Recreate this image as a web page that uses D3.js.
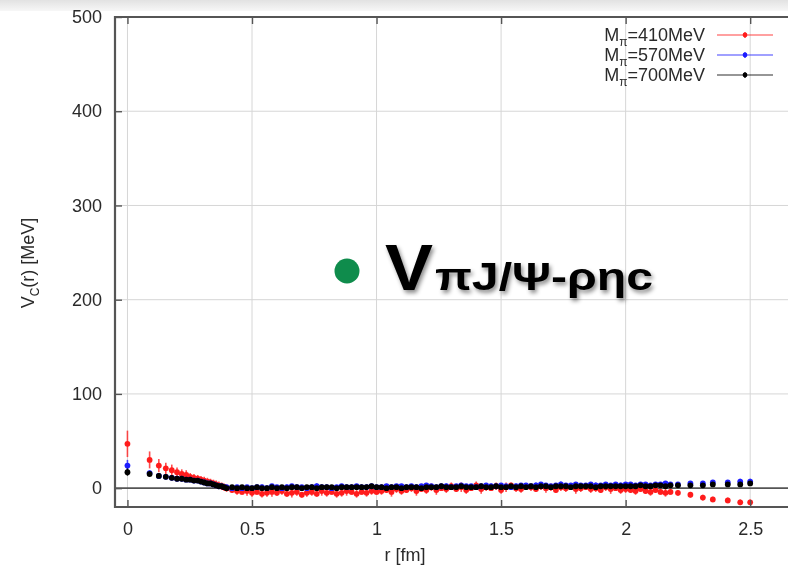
<!DOCTYPE html>
<html lang="en">
<head>
<meta charset="utf-8">
<title>V_C(r) potential</title>
<script src="https://cdn.jsdelivr.net/npm/d3@7/dist/d3.min.js"></script>
<style>
  body { margin: 0; background: #fff; }
  text { font-family: "Liberation Sans", Arial, Helvetica, sans-serif; }
</style>
</head>
<body>
<script>
// chart data
var x_ticks = [0, 0.5, 1, 1.5, 2, 2.5];
var x_tick_labels = ["0", "0.5", "1", "1.5", "2", "2.5"];
var y_ticks = [0, 100, 200, 300, 400, 500];
var series_names = ["410MeV", "570MeV", "700MeV"];

// distance r [fm], shared by the three masses
var r_fm = [
  0, 0.089, 0.126, 0.154, 0.178, 0.199, 0.218, 0.236, 0.252, 0.267, 0.282,
  0.295, 0.308, 0.321, 0.333, 0.345, 0.356, 0.367, 0.378, 0.388, 0.398,
  0.42, 0.44, 0.46, 0.48, 0.50, 0.52, 0.54, 0.56, 0.58, 0.60,
  0.62, 0.64, 0.66, 0.68, 0.70, 0.72, 0.74, 0.76, 0.78, 0.80,
  0.82, 0.84, 0.86, 0.88, 0.90, 0.92, 0.94, 0.96, 0.98, 1.00,
  1.02, 1.04, 1.06, 1.08, 1.10, 1.12, 1.14, 1.16, 1.18, 1.20,
  1.22, 1.24, 1.26, 1.28, 1.30, 1.32, 1.34, 1.36, 1.38, 1.40,
  1.42, 1.44, 1.46, 1.48, 1.50, 1.52, 1.54, 1.56, 1.58, 1.60,
  1.62, 1.64, 1.66, 1.68, 1.70, 1.72, 1.74, 1.76, 1.78, 1.80,
  1.82, 1.84, 1.86, 1.88, 1.90, 1.92, 1.94, 1.96, 1.98, 2.00,
  2.02, 2.04, 2.06, 2.08, 2.10, 2.12, 2.14, 2.16, 2.18,
  2.21, 2.26, 2.31, 2.35, 2.41, 2.46, 2.50
];

// M_pi = 410 MeV
var v_410 = [
  47, 30, 24, 21, 19, 17, 15, 14, 12, 11, 10, 9, 8, 7, 6, 5, 4, 3, 2, 1, 0,
  -2, -3, -4, -3, -5, -4, -6, -5, -4, -5,
  -3, -6, -5, -4, -7, -5, -4, -6, -3, -5,
  -4, -6, -5, -3, -4, -6, -4, -5, -3, -4,
  -3, -2, -4, -1, -3, -2, 0, -3, -1, -2,
  1, -2, 0, -1, 2, -1, 1, -2, 0, 3,
  -1, 1, 0, 2, -2, 1, 3, 0, -1, 2,
  1, -1, 2, 0, 1, -2, 1, 0, 2, -1,
  0, 1, -1, 0, -2, 1, -1, 0, -2, -1,
  -2, -3, -1, -3, -4, -2, -4, -5, -4,
  -5, -7, -10, -12, -13, -15, -15
];
var err_410 = [
  14, 9, 7, 6, 6, 5, 5, 5, 4, 4, 4, 4, 4, 4, 4, 4, 4, 4, 4, 4, 4,
  3, 4, 3, 5, 4, 3, 4, 4, 5, 3,
  4, 3, 5, 4, 3, 4, 4, 3, 5, 4,
  3, 4, 4, 5, 3, 4, 3, 4, 4, 3,
  4, 3, 5, 4, 4, 3, 4, 5, 3, 4,
  4, 5, 3, 4, 4, 3, 5, 4, 3, 4,
  5, 4, 3, 4, 4, 5, 3, 4, 4, 3,
  4, 3, 4, 5, 4, 3, 4, 4, 3, 5,
  4, 3, 4, 4, 3, 4, 5, 3, 4, 4,
  3, 4, 3, 3, 4, 3, 3, 4, 3,
  3, 3, 3, 3, 3, 3, 3
];

// M_pi = 570 MeV
var v_570 = [
  24, 16, 13, 12, 11, 10, 10, 9, 9, 8, 8, 7, 6, 5, 5, 4, 3, 2, 2, 1, 1,
  0, 1, 0, 1, 0, 1, 1, 0, 2, 1,
  0, 1, 2, 1, 1, 0, 1, 2, 1, 1,
  0, 1, 2, 1, 1, 2, 1, 1, 2, 1,
  1, 2, 1, 2, 2, 1, 2, 1, 2, 3,
  2, 1, 2, 2, 1, 2, 3, 2, 2, 1,
  2, 3, 2, 2, 3, 2, 1, 2, 3, 3,
  2, 3, 4, 3, 2, 3, 4, 3, 3, 4,
  3, 3, 4, 3, 3, 4, 3, 4, 3, 4,
  4, 3, 4, 4, 3, 4, 4, 5, 4,
  4, 5, 5, 6, 6, 7, 7
];
var err_570 = [
  6, 3, 3, 3, 2, 2, 2, 2, 2, 2, 2, 2, 2, 2, 2, 2, 2, 2, 2, 2, 2,
  2, 2, 3, 2, 2, 2, 3, 2, 2, 2,
  2, 3, 2, 2, 2, 2, 2, 3, 2, 2,
  2, 2, 2, 3, 2, 2, 2, 2, 3, 2,
  2, 2, 3, 2, 2, 2, 2, 3, 2, 2,
  2, 2, 2, 3, 2, 2, 2, 2, 2, 3,
  2, 2, 3, 2, 2, 2, 2, 3, 2, 2,
  2, 3, 2, 2, 2, 2, 3, 2, 2, 2,
  2, 2, 2, 3, 2, 2, 2, 2, 3, 2,
  2, 2, 2, 2, 2, 2, 2, 2, 2,
  2, 2, 2, 2, 2, 3, 3
];

// M_pi = 700 MeV
var v_700 = [
  17, 15, 13, 12, 11, 10, 10, 9, 9, 8, 8, 7, 6, 5, 5, 4, 3, 2, 2, 1, 0,
  1, 0, 1, 0, 0, 1, 0, 0, 1, 0,
  1, 0, 1, 1, 0, 1, 1, 0, 1, 1,
  1, 0, 1, 1, 1, 1, 1, 1, 2, 1,
  1, 0, 1, 1, 0, 1, 1, 1, 0, 1,
  1, 1, 2, 1, 1, 1, 2, 1, 1, 1,
  2, 1, 1, 2, 1, 1, 2, 1, 2, 1,
  2, 1, 2, 2, 1, 2, 2, 2, 1, 2,
  2, 2, 2, 1, 2, 2, 2, 2, 2, 2,
  2, 2, 3, 2, 2, 3, 3, 2, 3,
  3, 3, 3, 4, 4, 4, 5
];
var err_700 = [
  4, 2, 2, 2, 2, 2, 2, 2, 2, 2, 2, 2, 2, 2, 2, 2, 2, 2, 2, 2, 2,
  1, 2, 1, 1, 2, 1, 1, 2, 1, 1,
  2, 1, 1, 1, 2, 1, 1, 2, 1, 1,
  1, 2, 1, 1, 1, 2, 1, 1, 1, 2,
  1, 1, 2, 1, 1, 1, 2, 1, 1, 1,
  2, 1, 1, 1, 2, 1, 1, 1, 2, 1,
  1, 1, 2, 1, 1, 2, 1, 1, 1, 2,
  1, 1, 1, 2, 1, 1, 2, 1, 1, 1,
  2, 1, 1, 1, 2, 1, 1, 1, 2, 1,
  1, 2, 1, 1, 2, 1, 1, 2, 1,
  2, 2, 2, 2, 2, 2, 2
];

// layout
var width = 788;
var height = 576;
var left_edge = 115;
var right_edge = 800;   // frame runs off the right side of the picture
var top_edge = 17;
var bottom_edge = 507;

var colors = ["#ff1e1e", "#1e1eff", "#000000"];
var all_values = [v_410, v_570, v_700];
var all_errors = [err_410, err_570, err_700];

var svg = d3.select("body").append("svg").attr("width", width).attr("height", height);

var defs = svg.append("defs");
var grad = defs.append("linearGradient").attr("id", "topband")
  .attr("x1", 0).attr("y1", 0).attr("x2", 0).attr("y2", 1);
grad.append("stop").attr("offset", "0%").attr("stop-color", "#e2e2e2");
grad.append("stop").attr("offset", "100%").attr("stop-color", "#f7f7f7");

var shadow = defs.append("filter").attr("id", "shadow")
  .attr("x", "-10%").attr("y", "-20%").attr("width", "130%").attr("height", "150%");
shadow.append("feDropShadow").attr("dx", 2).attr("dy", 3).attr("stdDeviation", 2)
  .attr("flood-color", "#000").attr("flood-opacity", 0.45);

var soft = defs.append("filter").attr("id", "soft");
soft.append("feGaussianBlur").attr("stdDeviation", 0.7);

svg.append("rect").attr("x", 0).attr("y", 0).attr("width", width).attr("height", 11)
  .attr("fill", "url(#topband)");

// scales
var x_scale = d3.scaleLinear().domain([-0.05, 2.7]).range([left_edge, right_edge]);
var y_scale = d3.scaleLinear().domain([-20, 500]).range([bottom_edge, top_edge]);

var plot = svg.append("g").attr("filter", "url(#soft)");

// grid
plot.selectAll(".vgrid").data(x_ticks).enter().append("line")
  .attr("x1", d => x_scale(d)).attr("x2", d => x_scale(d))
  .attr("y1", top_edge).attr("y2", bottom_edge)
  .attr("stroke", "#d6d6d6").attr("stroke-width", 1);
plot.selectAll(".hgrid").data(y_ticks.filter(d => d > 0 && d < 500)).enter().append("line")
  .attr("x1", left_edge).attr("x2", right_edge)
  .attr("y1", d => y_scale(d)).attr("y2", d => y_scale(d))
  .attr("stroke", "#d6d6d6").attr("stroke-width", 1);

// zero line
plot.append("line")
  .attr("x1", left_edge).attr("x2", right_edge)
  .attr("y1", y_scale(0)).attr("y2", y_scale(0))
  .attr("stroke", "#555").attr("stroke-width", 1.6);

// data with error bars
all_values.forEach(function (vals, s) {
  var pts = r_fm.map(function (r, i) { return { r: r, v: vals[i], e: all_errors[s][i] }; });
  var g = plot.append("g").attr("stroke", colors[s]).attr("fill", colors[s]);
  g.selectAll(".eb").data(pts).enter().append("line")
    .attr("x1", d => x_scale(d.r)).attr("x2", d => x_scale(d.r))
    .attr("y1", d => y_scale(d.v - d.e)).attr("y2", d => y_scale(d.v + d.e))
    .attr("stroke-width", 1.6).attr("stroke-opacity", 0.8);
  g.selectAll(".pt").data(pts).enter().append("circle")
    .attr("cx", d => x_scale(d.r)).attr("cy", d => y_scale(d.v))
    .attr("r", 2.9).attr("stroke", "none");
});

// frame
plot.append("line").attr("x1", left_edge).attr("x2", left_edge)
  .attr("y1", top_edge - 1).attr("y2", bottom_edge + 1)
  .attr("stroke", "#555").attr("stroke-width", 2.2);
plot.append("line").attr("x1", left_edge).attr("x2", right_edge)
  .attr("y1", top_edge).attr("y2", top_edge)
  .attr("stroke", "#555").attr("stroke-width", 2.2);
plot.append("line").attr("x1", left_edge).attr("x2", right_edge)
  .attr("y1", bottom_edge).attr("y2", bottom_edge)
  .attr("stroke", "#555").attr("stroke-width", 2.2);

// axes
var x_axis = d3.axisBottom(x_scale).tickValues(x_ticks)
  .tickFormat((d, i) => x_tick_labels[i]).tickSize(-7).tickPadding(15);
var gx = plot.append("g").attr("transform", "translate(0," + bottom_edge + ")").call(x_axis);
var gxt = plot.append("g").attr("transform", "translate(0," + top_edge + ")")
  .call(d3.axisTop(x_scale).tickValues(x_ticks).tickFormat("").tickSize(-7));
var y_axis = d3.axisLeft(y_scale).tickValues(y_ticks).tickSize(-7).tickPadding(13);
var gy = plot.append("g").attr("transform", "translate(" + left_edge + ",0)").call(y_axis);

[gx, gxt, gy].forEach(function (g) {
  g.select(".domain").remove();
  g.selectAll(".tick line").attr("stroke", "#555").attr("stroke-width", 1.4);
  g.selectAll(".tick text").attr("fill", "#2a2a2a")
    .style("font-size", "18px").style("font-family", "'Liberation Sans', Arial, sans-serif");
});

// axis titles
plot.append("text")
  .attr("x", 405).attr("y", 561)
  .attr("text-anchor", "middle").attr("fill", "#2a2a2a")
  .style("font-size", "18px")
  .text("r [fm]");

var ylab = plot.append("text")
  .attr("transform", "translate(34,263) rotate(-90)")
  .attr("text-anchor", "middle").attr("fill", "#2a2a2a")
  .style("font-size", "18px");
ylab.append("tspan").text("V");
ylab.append("tspan").attr("dy", 5).style("font-size", "12px").text("C");
ylab.append("tspan").attr("dy", -5).text("(r) [MeV]");

// legend
var legend_y = [35, 55, 75];
series_names.forEach(function (name, i) {
  var t = plot.append("text")
    .attr("x", 705).attr("y", legend_y[i] + 6)
    .attr("text-anchor", "end").attr("fill", "#2a2a2a")
    .style("font-size", "18px");
  t.append("tspan").text("M");
  t.append("tspan").attr("dy", 5).style("font-size", "12px").text("π");
  t.append("tspan").attr("dy", -5).text("=" + name);
  plot.append("line")
    .attr("x1", 717).attr("x2", 773).attr("y1", legend_y[i]).attr("y2", legend_y[i])
    .attr("stroke", colors[i]).attr("stroke-opacity", 0.55).attr("stroke-width", 1.6);
  plot.append("line")
    .attr("x1", 745).attr("x2", 745).attr("y1", legend_y[i] - 3).attr("y2", legend_y[i] + 3)
    .attr("stroke", colors[i]).attr("stroke-width", 1.2);
  plot.append("circle")
    .attr("cx", 745).attr("cy", legend_y[i]).attr("r", 2.4)
    .attr("fill", colors[i]);
});

// overlay label
svg.append("circle")
  .attr("cx", 347).attr("cy", 271).attr("r", 12.5)
  .attr("fill", "#0f8c4c");
var big = svg.append("g").attr("filter", "url(#shadow)");
big.append("text")
  .attr("x", 385).attr("y", 290)
  .attr("textLength", 48).attr("lengthAdjust", "spacingAndGlyphs")
  .attr("fill", "#000").style("font-size", "65px").style("font-weight", "bold")
  .text("V");
big.append("text")
  .attr("x", 435).attr("y", 290)
  .attr("textLength", 218).attr("lengthAdjust", "spacingAndGlyphs")
  .attr("fill", "#000").style("font-size", "38px").style("font-weight", "bold")
  .text("πJ/Ψ-ρηc");
</script>
</body>
</html>
